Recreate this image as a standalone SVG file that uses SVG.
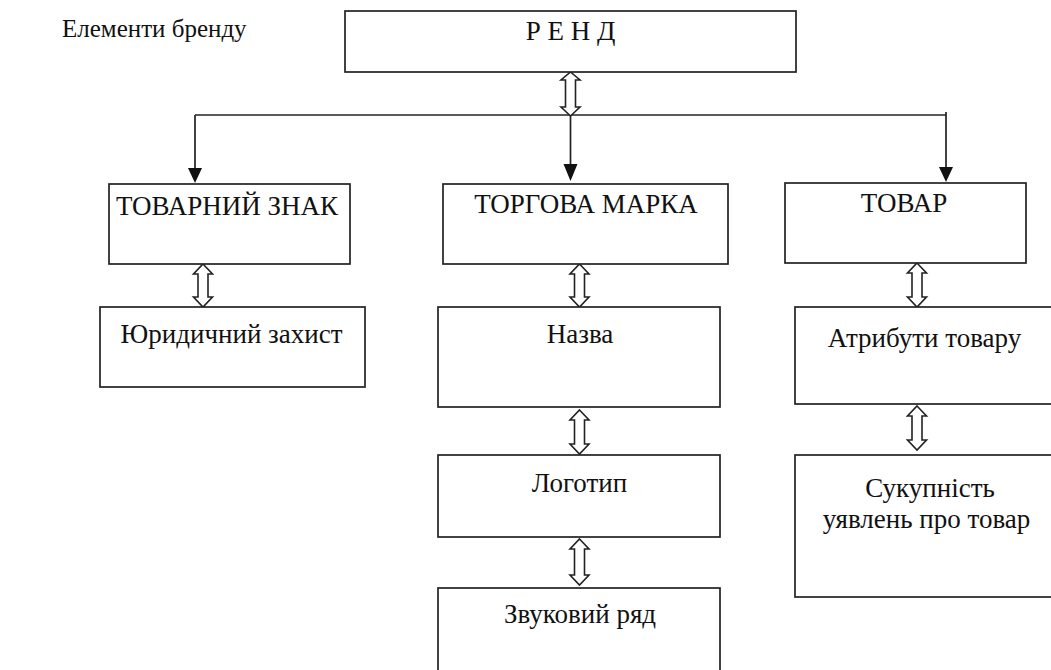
<svg xmlns="http://www.w3.org/2000/svg" width="1051" height="670" viewBox="0 0 1051 670">
<defs>
<style>
.box{fill:#fff;stroke:#222;stroke-width:1.7}
.t{font-family:"Liberation Serif","Times New Roman",serif;font-size:27px;fill:#111;text-anchor:middle}
.ln{fill:none;stroke:#222;stroke-width:1.7}
.dbl{fill:#fff;stroke:#222;stroke-width:1.6;stroke-linejoin:miter}
.ah{fill:#111}
</style>
</defs>
<rect width="1051" height="670" fill="#fff"/>
<text class="t" x="62" y="37" style="text-anchor:start;font-size:25px">Елементи бренду</text>

<g id="connectors">
<polyline class="ln" points="195,115 195,170"/>
<line class="ln" x1="195" y1="115" x2="946" y2="115"/>
<polyline class="ln" points="946,112 946,168"/>
<line class="ln" x1="570.5" y1="116" x2="570.5" y2="166"/>
<path class="ah" d="M188,168 L202,168 L195,183 Z"/>
<path class="ah" d="M563.5,164 L577.5,164 L570.5,181 Z"/>
<path class="ah" d="M939,167 L953,167 L946,182 Z"/>
<path class="dbl" d="M570.5,72 L580,80 L575.5,80 L575.5,107 L580,107 L570.5,116 L561,107 L565.5,107 L565.5,80 L561,80 Z"/>
<path class="dbl" d="M203,264 L212.5,274 L208,274 L208,297 L212.5,297 L203,307 L193.5,297 L198,297 L198,274 L193.5,274 Z"/>
<path class="dbl" d="M579.5,264 L589,274 L584.5,274 L584.5,297 L589,297 L579.5,307 L570,297 L574.5,297 L574.5,274 L570,274 Z"/>
<path class="dbl" d="M579.5,410 L589,420 L584.5,420 L584.5,444 L589,444 L579.5,454 L570,444 L574.5,444 L574.5,420 L570,420 Z"/>
<path class="dbl" d="M579.5,539 L589,549 L584.5,549 L584.5,575 L589,575 L579.5,585 L570,575 L574.5,575 L574.5,549 L570,549 Z"/>
<path class="dbl" d="M917,263 L926.5,273 L922,273 L922,297 L926.5,297 L917,307 L907.5,297 L912,297 L912,273 L907.5,273 Z"/>
<path class="dbl" d="M917,406 L926.5,416 L922,416 L922,440 L926.5,440 L917,450 L907.5,440 L912,440 L912,416 L907.5,416 Z"/>
</g>

<g id="brand"><rect class="box" x="345" y="11" width="451" height="61"/><text class="t" x="570.5" y="40">Р Е Н Д</text></g>
<g id="trademark"><rect class="box" x="109" y="184" width="241" height="80"/><text class="t" x="227" y="215">ТОВАРНИЙ ЗНАК</text></g>
<g id="brandmark"><rect class="box" x="443" y="184" width="285" height="80"/><text class="t" x="586" y="213">ТОРГОВА МАРКА</text></g>
<g id="product"><rect class="box" x="785" y="183" width="241" height="80"/><text class="t" x="904" y="212">ТОВАР</text></g>
<g id="legal"><rect class="box" x="100" y="307" width="265" height="80"/><text class="t" x="231.5" y="343">Юридичний захист</text></g>
<g id="name"><rect class="box" x="438" y="307" width="282" height="100"/><text class="t" x="580" y="343">Назва</text></g>
<g id="logo"><rect class="box" x="438" y="455" width="282" height="82"/><text class="t" x="579.5" y="492">Логотип</text></g>
<g id="sound"><rect class="box" x="438" y="588" width="282" height="100"/><text class="t" x="580" y="623">Звуковий ряд</text></g>
<g id="attributes"><rect class="box" x="795" y="307" width="270" height="97"/><text class="t" x="924.5" y="347">Атрибути товару</text></g>
<g id="perception"><rect class="box" x="795" y="455" width="270" height="142"/><text class="t" x="930" y="497">Сукупність</text><text class="t" x="926.5" y="528">уявлень про товар</text></g>
</svg>
